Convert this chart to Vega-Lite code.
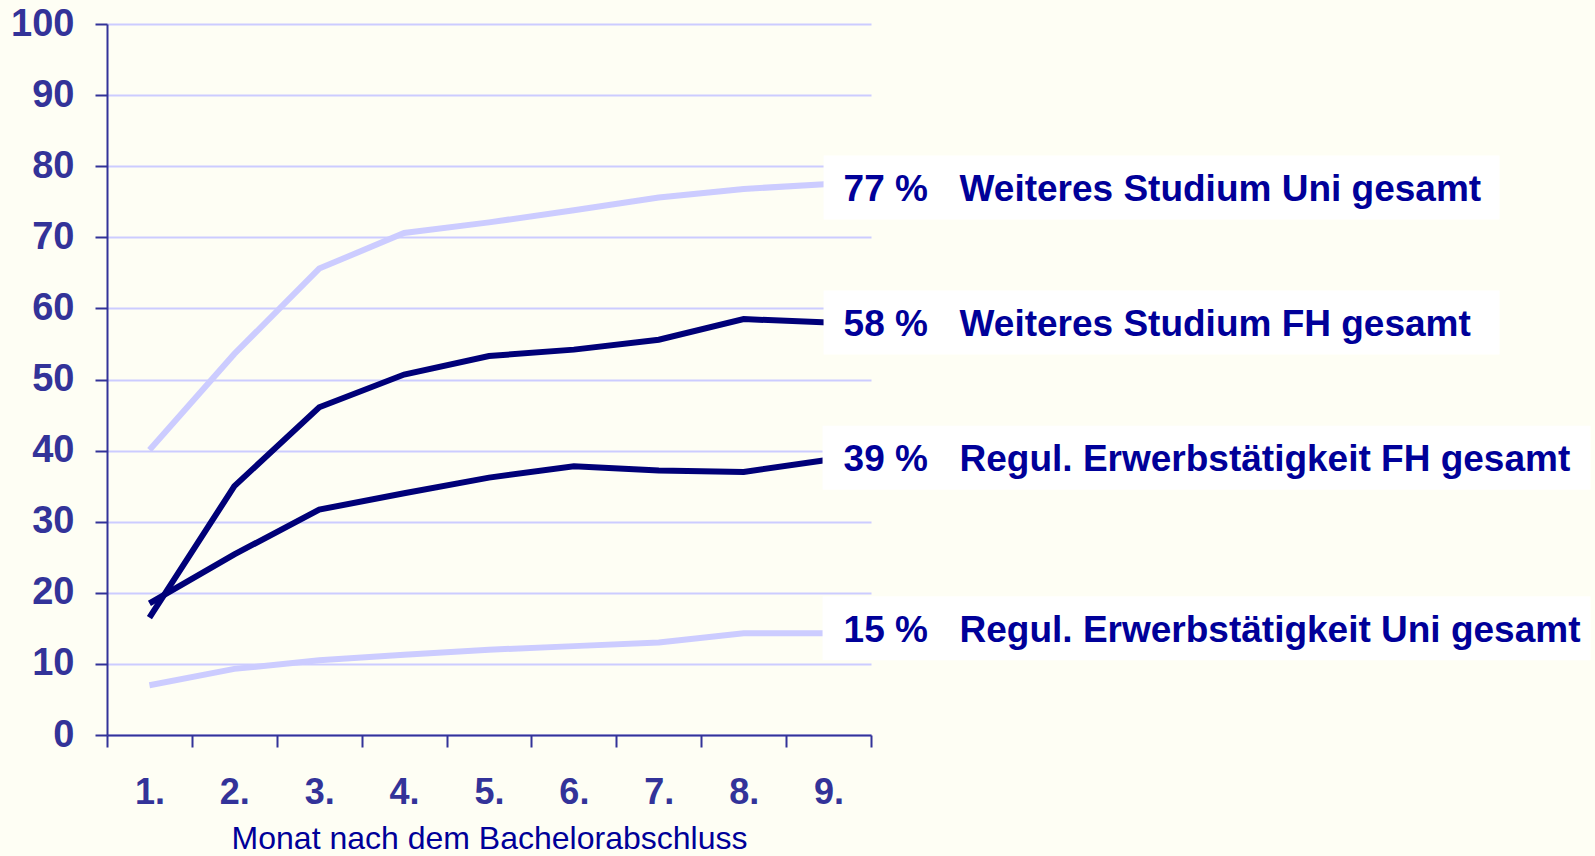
{
  "$schema": "https://vega.github.io/schema/vega-lite/v6.json",
  "width": 764,
  "height": 711,
  "autosize": {"type": "none"},
  "padding": {"left": 107, "top": 24, "right": 724, "bottom": 121},
  "background": "#fefef4",
  "config": {"view": {"stroke": null}, "font": "Liberation Sans"},
  "datasets": {
    "verlauf": [
      {"monat": "1.", "reihe": "Weiteres Studium Uni gesamt", "anteil": 40.1},
      {"monat": "2.", "reihe": "Weiteres Studium Uni gesamt", "anteil": 53.6},
      {"monat": "3.", "reihe": "Weiteres Studium Uni gesamt", "anteil": 65.6},
      {"monat": "4.", "reihe": "Weiteres Studium Uni gesamt", "anteil": 70.6},
      {"monat": "5.", "reihe": "Weiteres Studium Uni gesamt", "anteil": 72.1},
      {"monat": "6.", "reihe": "Weiteres Studium Uni gesamt", "anteil": 73.8},
      {"monat": "7.", "reihe": "Weiteres Studium Uni gesamt", "anteil": 75.6},
      {"monat": "8.", "reihe": "Weiteres Studium Uni gesamt", "anteil": 76.8},
      {"monat": "9.", "reihe": "Weiteres Studium Uni gesamt", "anteil": 77.5},
      {"monat": "1.", "reihe": "Regul. Erwerbstätigkeit Uni gesamt", "anteil": 7.0},
      {"monat": "2.", "reihe": "Regul. Erwerbstätigkeit Uni gesamt", "anteil": 9.3},
      {"monat": "3.", "reihe": "Regul. Erwerbstätigkeit Uni gesamt", "anteil": 10.5},
      {"monat": "4.", "reihe": "Regul. Erwerbstätigkeit Uni gesamt", "anteil": 11.3},
      {"monat": "5.", "reihe": "Regul. Erwerbstätigkeit Uni gesamt", "anteil": 12.0},
      {"monat": "6.", "reihe": "Regul. Erwerbstätigkeit Uni gesamt", "anteil": 12.5},
      {"monat": "7.", "reihe": "Regul. Erwerbstätigkeit Uni gesamt", "anteil": 13.0},
      {"monat": "8.", "reihe": "Regul. Erwerbstätigkeit Uni gesamt", "anteil": 14.3},
      {"monat": "9.", "reihe": "Regul. Erwerbstätigkeit Uni gesamt", "anteil": 14.3},
      {"monat": "1.", "reihe": "Weiteres Studium FH gesamt", "anteil": 16.5},
      {"monat": "2.", "reihe": "Weiteres Studium FH gesamt", "anteil": 35.0},
      {"monat": "3.", "reihe": "Weiteres Studium FH gesamt", "anteil": 46.1},
      {"monat": "4.", "reihe": "Weiteres Studium FH gesamt", "anteil": 50.7},
      {"monat": "5.", "reihe": "Weiteres Studium FH gesamt", "anteil": 53.3},
      {"monat": "6.", "reihe": "Weiteres Studium FH gesamt", "anteil": 54.2},
      {"monat": "7.", "reihe": "Weiteres Studium FH gesamt", "anteil": 55.6},
      {"monat": "8.", "reihe": "Weiteres Studium FH gesamt", "anteil": 58.5},
      {"monat": "9.", "reihe": "Weiteres Studium FH gesamt", "anteil": 58.0},
      {"monat": "1.", "reihe": "Regul. Erwerbstätigkeit FH gesamt", "anteil": 18.5},
      {"monat": "2.", "reihe": "Regul. Erwerbstätigkeit FH gesamt", "anteil": 25.4},
      {"monat": "3.", "reihe": "Regul. Erwerbstätigkeit FH gesamt", "anteil": 31.7},
      {"monat": "4.", "reihe": "Regul. Erwerbstätigkeit FH gesamt", "anteil": 34.0},
      {"monat": "5.", "reihe": "Regul. Erwerbstätigkeit FH gesamt", "anteil": 36.2},
      {"monat": "6.", "reihe": "Regul. Erwerbstätigkeit FH gesamt", "anteil": 37.8},
      {"monat": "7.", "reihe": "Regul. Erwerbstätigkeit FH gesamt", "anteil": 37.2},
      {"monat": "8.", "reihe": "Regul. Erwerbstätigkeit FH gesamt", "anteil": 37.0},
      {"monat": "9.", "reihe": "Regul. Erwerbstätigkeit FH gesamt", "anteil": 38.7}
    ],
    "beschriftung": [
      {"reihe": "Weiteres Studium Uni gesamt", "art": "Weiteres", "endwert": 77, "prozent": "77 %"},
      {"reihe": "Weiteres Studium FH gesamt", "art": "Weiteres", "endwert": 58, "prozent": "58 %"},
      {"reihe": "Regul. Erwerbstätigkeit FH gesamt", "art": "Regul", "endwert": 39, "prozent": "39 %"},
      {"reihe": "Regul. Erwerbstätigkeit Uni gesamt", "art": "Regul", "endwert": 15, "prozent": "15 %"}
    ]
  },
  "layer": [
    {
      "data": {"name": "verlauf"},
      "mark": {"type": "line", "strokeWidth": 6, "strokeJoin": "miter", "strokeCap": "butt"},
      "encoding": {
        "x": {
          "field": "monat", "type": "ordinal",
          "scale": {"paddingInner": 0, "paddingOuter": 0},
          "axis": {
            "title": "Monat nach dem Bachelorabschluss",
            "titleFontSize": 32, "titleFontWeight": "normal", "titleColor": "#000099", "titlePadding": 13,
            "labelFontSize": 36, "labelFontWeight": "bold", "labelColor": "#333399", "labelAngle": 0, "labelPadding": 28,
            "tickBand": "extent", "tickSize": 12, "tickColor": "#333399", "tickWidth": 2,
            "domainColor": "#333399", "domainWidth": 2, "grid": false
          }
        },
        "y": {
          "field": "anteil", "type": "quantitative",
          "scale": {"domain": [0, 100], "nice": false},
          "axis": {
            "title": null, "values": [0, 10, 20, 30, 40, 50, 60, 70, 80, 90, 100],
            "labelFontSize": 38, "labelFontWeight": "bold", "labelColor": "#333399", "labelPadding": 21,
            "tickSize": 12, "tickColor": "#333399", "tickWidth": 2,
            "domainColor": "#333399", "domainWidth": 2,
            "grid": true, "gridColor": "#ccccff", "gridWidth": 2
          }
        },
        "color": {
          "field": "reihe", "type": "nominal", "legend": null,
          "scale": {
            "domain": ["Weiteres Studium Uni gesamt", "Regul. Erwerbstätigkeit Uni gesamt", "Weiteres Studium FH gesamt", "Regul. Erwerbstätigkeit FH gesamt"],
            "range": ["#ccccff", "#ccccff", "#000078", "#000078"]
          }
        }
      }
    },
    {
      "data": {"name": "beschriftung"},
      "transform": [{"filter": "datum.art === 'Weiteres'"}],
      "mark": {"type": "tick", "color": "white", "opacity": 1, "size": 676, "thickness": 64, "xOffset": 333},
      "encoding": {
        "x": {"datum": "9.", "type": "ordinal"},
        "y": {"field": "endwert", "type": "quantitative", "title": null}
      }
    },
    {
      "data": {"name": "beschriftung"},
      "transform": [{"filter": "datum.art === 'Regul'"}],
      "mark": {"type": "tick", "color": "white", "opacity": 1, "size": 768, "thickness": 64, "xOffset": 378},
      "encoding": {
        "x": {"datum": "9.", "type": "ordinal"},
        "y": {"field": "endwert", "type": "quantitative", "title": null}
      }
    },
    {
      "data": {"name": "beschriftung"},
      "mark": {"type": "text", "align": "left", "baseline": "alphabetic", "dx": 15, "dy": 13.5, "fontSize": 37, "fontWeight": "bold", "color": "#000099"},
      "encoding": {
        "x": {"datum": "9.", "type": "ordinal"},
        "y": {"field": "endwert", "type": "quantitative", "title": null},
        "text": {"field": "prozent"}
      }
    },
    {
      "data": {"name": "beschriftung"},
      "mark": {"type": "text", "align": "left", "baseline": "alphabetic", "dx": 131, "dy": 13.5, "fontSize": 37, "fontWeight": "bold", "color": "#000099"},
      "encoding": {
        "x": {"datum": "9.", "type": "ordinal"},
        "y": {"field": "endwert", "type": "quantitative", "title": null},
        "text": {"field": "reihe"}
      }
    }
  ]
}
